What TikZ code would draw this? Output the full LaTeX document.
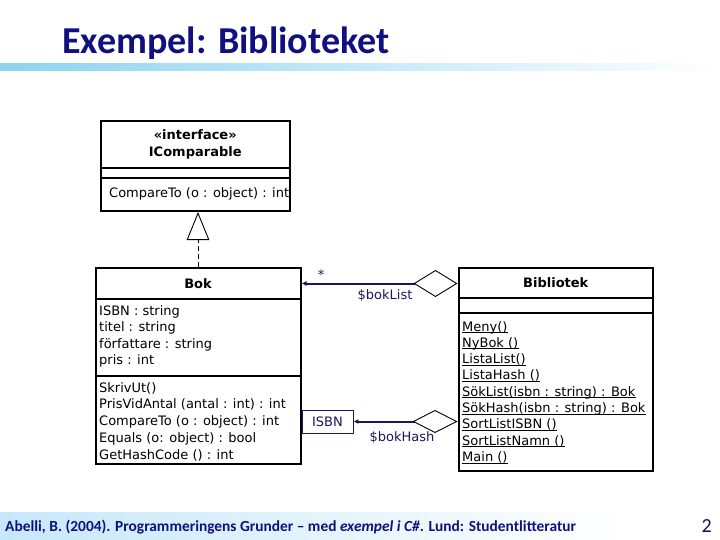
\documentclass[tikz,border=0pt]{standalone}
\usepackage{fontspec}
\setmainfont{DejaVu Sans}
\newfontfamily\slidefont{Carlito}
\usetikzlibrary{arrows.meta,positioning}
\definecolor{titleblue}{RGB}{16,16,128}
\definecolor{assocblue}{RGB}{24,24,100}
\definecolor{barblue}{RGB}{140,212,240}
\definecolor{footblue}{RGB}{198,232,250}
\definecolor{pagenavy}{RGB}{20,20,70}
\newcommand{\umlsize}{\fontsize{13}{15}\selectfont}
\tikzset{
    compartment/.style={draw=black,line width=2pt,inner sep=0pt,anchor=north west},
    classname/.style={font=\bfseries\umlsize},
    member/.style={font=\umlsize,anchor=base west,inner sep=0pt},
    realize/.style={black,line width=0.9pt,dash pattern=on 5pt off 3pt,
        -{Triangle[open,length=28pt,width=22.6pt,line width=0.9pt]}},
    assoc/.style={assocblue,line width=2pt},
    qualifier/.style={draw=assocblue,line width=0.9pt,minimum width=51pt,minimum height=23pt,
        inner sep=0pt,text=assocblue,font=\umlsize},
    rolelabel/.style={text=assocblue,font=\umlsize,inner sep=0pt},
}

\begin{document}
\begin{tikzpicture}[x=1pt,y=-1pt]
  \useasboundingbox (0,0) rectangle (720,540);
  \fill[white] (0,0) rectangle (720,540);
  % slide frame
  \shade[left color=barblue,right color=white] (0,64) rectangle (720,71);
  \shade[left color=footblue,right color=white] (0,512) rectangle (620,540);
  \node[anchor=base west,inner sep=0pt,text=titleblue,
        font=\slidefont\bfseries\fontsize{38}{40}\selectfont] (title) at (62,53.3) {Exempel: Biblioteket};
  \node[anchor=base west,inner sep=0pt,text=titleblue,
        font=\slidefont\bfseries\fontsize{15.4}{17}\selectfont] (cite) at (5,531)
        {Abelli, B. (2004). Programmeringens Grunder – med \textit{exempel i C\#}. Lund: Studentlitteratur};
  \node[anchor=base east,inner sep=0pt,text=pagenavy,
        font=\slidefont\fontsize{20}{22}\selectfont] (pagenum) at (712,532) {2};
  % IComparable
  \node[compartment,minimum width=188.5pt,minimum height=47pt,classname,align=center,
        font=\bfseries\fontsize{13}{17.4}\selectfont] (ifacehead) at (100,120) {«interface»\\IComparable};
  \node[compartment,minimum width=188.5pt,minimum height=10pt] (ifaceattr) at (100,167) {};
  \node[compartment,minimum width=188.5pt,minimum height=33pt] (ifaceops) at (100,177) {};
  \node[member] (ifaceop1) at (109,197.7) {CompareTo (o : object) : int};
  % Bok
  \node[compartment,minimum width=205pt,minimum height=31pt,classname] (bokhead) at (94.5,267) {Bok};
  \node[compartment,minimum width=205pt,minimum height=77pt] (bokattr) at (94.5,298) {};
  \node[compartment,minimum width=205pt,minimum height=88pt] (bokops) at (94.5,375) {};
  \foreach \txt [count=\i] in {ISBN : string,titel : string,författare : string,pris : int}
    \node[member] (bokattr\i) at (99,{315+16.5*(\i-1)}) {\txt};
  \foreach \txt [count=\i] in {SkrivUt(),PrisVidAntal (antal : int) : int,CompareTo (o : object) : int,
      Equals (o: object) : bool,GetHashCode () : int}
    \node[member] (bokop\i) at (99,{392+16.8*(\i-1)}) {\txt};
  % Bibliotek
  \node[compartment,minimum width=194.5pt,minimum height=30pt,classname] (bibhead) at (457.5,267) {Bibliotek};
  \node[compartment,minimum width=194.5pt,minimum height=15pt] (bibattr) at (457.5,297) {};
  \node[compartment,minimum width=194.5pt,minimum height=158pt] (bibops) at (457.5,312) {};
  \foreach \txt [count=\i] in {Meny(),NyBok (),ListaList(),ListaHash (),SökList(isbn : string) : Bok,
      SökHash(isbn : string) : Bok,SortListISBN (),SortListNamn (),Main ()}
  {
    \node[member] (bibop\i) at (462,{331+16.3*(\i-1)}) {\txt};
    \draw[line width=0.8pt] ([yshift=-1.5pt]bibop\i.base west) -- ([yshift=-1.5pt]bibop\i.base east);
  }
  % relations
  \draw[realize] (bokhead.north) -- (bokhead.north |- ifaceops.south);
  \draw[assoc,{Diamond[fill=white,color=black,line width=0.9pt,length=44pt,width=27pt]}-{Latex[length=5pt,width=5pt]}]
    (bibhead.west |- bokhead.east) -- (bokhead.east);
  \node[qualifier,right=0pt of bokops.east,yshift=-1.5pt] (isbn) {ISBN};
  \draw[assoc,{Diamond[fill=white,color=black,line width=0.9pt,length=45pt,width=23pt]}-{Latex[length=5pt,width=5pt]}]
    (bibops.west |- isbn.east) -- (isbn.east);
  \node[rolelabel] (listmult) at (321,274.5) {*};
  \node[rolelabel] (listrole) at (385,295.5) {\$bokList};
  \node[rolelabel] (hashrole) at (402,437.5) {\$bokHash};
\end{tikzpicture}
\end{document}
